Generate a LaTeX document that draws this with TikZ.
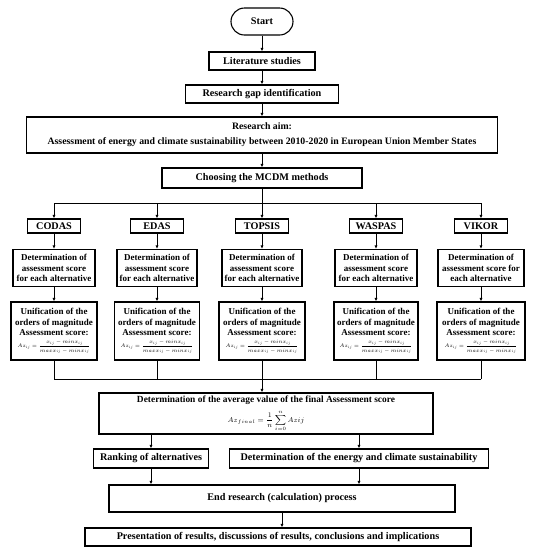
\RequirePackage{fix-cm}
\documentclass[tikz,border=0pt]{standalone}
\usepackage{amsmath}
\usepackage{graphicx}
\usepackage{fontspec}
\setmainfont{Liberation Serif}
\usetikzlibrary{arrows.meta}

\tikzset{
	box/.style={draw, line width=1.1pt, align=center, inner sep=1pt,
		font=\bfseries\fontsize{10.2}{12}\selectfont},
	smallbox/.style={box, font=\bfseries\fontsize{9}{10.6}\selectfont},
	link/.style={line width=0.9pt},
	arr/.style={link, -{Latex[length=3.5pt,width=3pt]}}
}

% box texts of the five method columns
\newcommand{\detA}{Determination of\\assessment score\\for each alternative}
\newcommand{\detB}{Determination of\\assessment score for\\each alternative}
\newcommand{\unif}{Unification of the\\orders of magnitude\\Assessment score:\\[1pt]
	\scalebox{0.8}{\mdseries\fontsize{6.5}{7}\selectfont $\displaystyle Az_{ij}=\frac{x_{ij}-minx_{ij}}{maxx_{ij}-minx_{ij}}$}}

\begin{document}
\begin{tikzpicture}[x=1pt,y=-1pt]
	\useasboundingbox (0,0) rectangle (537,550);

	% main chain
	\node[box, minimum width=62pt, minimum height=27pt, rounded corners=13.5pt] (start) at (262,21.5) {Start};
	\node[box, minimum width=106pt, minimum height=18pt] (lit) at (262,61) {Literature studies};
	\node[box, minimum width=153pt, minimum height=18pt] (gap) at (262,94) {Research gap identification};
	\node[box, minimum width=471pt, minimum height=36pt, font=\bfseries\fontsize{9.8}{15}\selectfont] (aim) at (262,135)
		{Research aim:\\Assessment of energy and climate sustainability between 2010-2020 in European Union Member States};
	\node[box, minimum width=200pt, minimum height=20pt] (mcdm) at (262,178) {Choosing the MCDM methods};

	\draw[arr] (start) -- (lit);
	\draw[arr] (lit) -- (gap);
	\draw[arr] (gap) -- (aim);
	\draw[arr] (aim) -- (mcdm);

	% method columns
	\foreach \m/\x/\dw/\uw/\dt [count=\i] in {CODAS/54/82/86/\detA, EDAS/157/80/85/\detA,
			TOPSIS/262/80/86/\detA, WASPAS/376/82/84/\detA, VIKOR/481/86/88/\detB}{
		\coordinate (top\i) at (\x,203);
		\coordinate (bot\i) at (\x,379);
		\node[box, minimum width=53pt, minimum height=14pt] (meth\i) at (\x,226) {\m};
		\node[smallbox, minimum width=\dw pt, minimum height=37pt] (det\i) at (\x,268) {\dt};
		\node[smallbox, minimum width=\uw pt, minimum height=58pt] (unif\i) at (\x,331) {\unif};
		\draw[arr] (top\i) -- (meth\i);
		\draw[arr] (meth\i) -- (det\i);
		\draw[arr] (det\i) -- (unif\i);
		\draw[link] (unif\i) -- (bot\i);
	}
	\draw[link] (mcdm) -- (top3);
	\draw[link] (top1) -- (top5);
	\draw[link] (bot1) -- (bot5);

	% final steps
	\node[box, minimum width=334pt, minimum height=41pt, font=\bfseries\fontsize{9.4}{11}\selectfont] (avg) at (266,413.5)
		{Determination of the average value of the final Assessment score\\[5pt]
		{\mdseries\fontsize{7}{8}\selectfont $\displaystyle Az_{final}=\frac{1}{n}\sum_{i=0}^{n}Azij$}};
	\node[box, minimum width=115pt, minimum height=19pt] (rank) at (151,458.5) {Ranking of alternatives};
	\node[box, minimum width=259pt, minimum height=19pt] (sust) at (359,458.5) {Determination of the energy and climate sustainability};
	\node[box, minimum width=346pt, minimum height=27pt] (endr) at (282,498.5) {End research (calculation) process};
	\node[box, minimum width=386pt, minimum height=18pt] (pres) at (278,537)
		{Presentation of results, discussions of results, conclusions and implications};

	\draw[arr] (bot3) -- (bot3 |- avg.north);
	\draw[arr] (rank |- avg.south) -- (rank);
	\draw[arr] (sust |- avg.south) -- (sust);
	\draw[arr] (rank) -- (rank |- endr.north);
	\draw[arr] (sust) -- (sust |- endr.north);
	\draw[arr] (endr) -- (endr |- pres.north);
\end{tikzpicture}
\end{document}
